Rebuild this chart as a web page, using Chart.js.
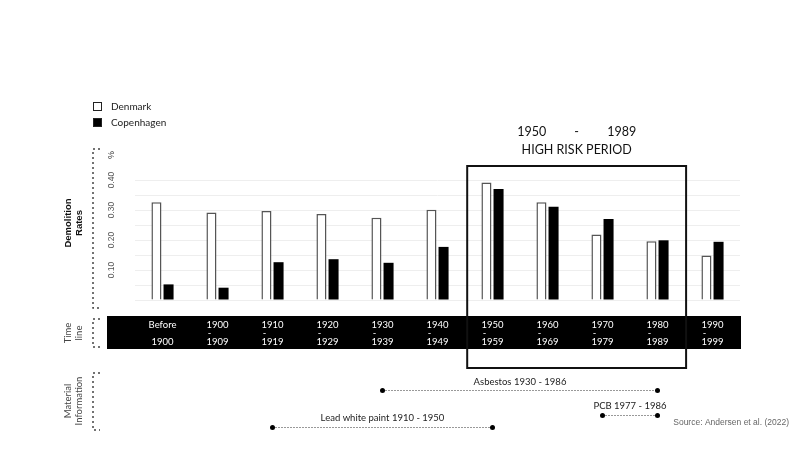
<!DOCTYPE html>
<html lang="en">
<head>
  <meta charset="UTF-8" />
  <title>Demolition Rates - Denmark vs Copenhagen</title>
  <script src="https://cdn.jsdelivr.net/npm/chart.js@4.4.0/dist/chart.umd.min.js"></script>
  <style>
    body { margin: 0; background: #fff; overflow: hidden; }
    canvas { display: block; }
  </style>
</head>
<body>
  <canvas id="chart" width="804" height="452"></canvas>
  <script>
    // data
    let categories = ['Before 1900', '1900-1909', '1910-1919', '1920-1929', '1930-1939', '1940-1949',
                      '1950-1959', '1960-1969', '1970-1979', '1980-1989', '1990-1999'];
    let periodStart = ['Before', '1900', '1910', '1920', '1930', '1940', '1950', '1960', '1970', '1980', '1990'];
    let periodEnd = ['1900', '1909', '1919', '1929', '1939', '1949', '1959', '1969', '1979', '1989', '1999'];
    let denmark = [0.326, 0.292, 0.297, 0.287, 0.274, 0.301, 0.392, 0.326, 0.218, 0.196, 0.148];
    let copenhagen = [0.052, 0.041, 0.126, 0.136, 0.124, 0.177, 0.370, 0.311, 0.270, 0.199, 0.194];
    let yTicks = [0.10, 0.20, 0.30, 0.40];

    let riskFrom = 6;   // 1950-1959
    let riskTo = 9;     // 1980-1989
    let riskTitle = ['1950', '-', '1989'];

    let materials = [
      { label: 'Asbestos 1930 - 1986', from: 1930, to: 1986, row: 0 },
      { label: 'PCB 1977 - 1986', from: 1977, to: 1986, row: 1 },
      { label: 'Lead white paint 1910 - 1950', from: 1910, to: 1950, row: 2 }
    ];
    let source = 'Source: Andersen et al. (2022)';

    const sans = 'Lato, "Noto Sans", sans-serif';
    const helv = '"Liberation Sans", Arial, sans-serif';

    function decadeIndex(year) {
      return Math.floor((year - 1900) / 10) + 1;
    }

    function rotatedText(ctx, lines, cx, cy, font, color, lh) {
      ctx.save();
      ctx.translate(cx, cy);
      ctx.rotate(-Math.PI / 2);
      ctx.font = font;
      ctx.fillStyle = color;
      ctx.textAlign = 'center';
      ctx.textBaseline = 'middle';
      let off = -(lines.length - 1) * lh / 2;
      lines.forEach((t, i) => ctx.fillText(t, 0, off + i * lh));
      ctx.restore();
    }

    function bracket(ctx, x, y1, y2) {
      ctx.save();
      ctx.strokeStyle = '#444';
      ctx.lineWidth = 1.5;
      ctx.setLineDash([2, 3]);
      ctx.beginPath();
      ctx.moveTo(x + 7, y1); ctx.lineTo(x, y1); ctx.lineTo(x, y2); ctx.lineTo(x + 7, y2);
      ctx.stroke();
      ctx.restore();
    }

    const decor = {
      id: 'decor',
      afterDraw(chart) {
        const ctx = chart.ctx;
        const xs = chart.scales.x;
        const ys = chart.scales.y;
        const step = xs.getPixelForValue(1) - xs.getPixelForValue(0);

        // legend
        chart.data.datasets.forEach((ds, i) => {
          let y = 102 + i * 16;
          ctx.fillStyle = ds.backgroundColor;
          ctx.fillRect(93, y, 9, 9);
          ctx.strokeStyle = '#222';
          ctx.lineWidth = 1;
          ctx.strokeRect(93.5, y + 0.5, 8, 8);
          ctx.fillStyle = '#222';
          ctx.font = '10px ' + sans;
          ctx.textAlign = 'left';
          ctx.textBaseline = 'middle';
          ctx.fillText(ds.label, 111, y + 4.5);
        });

        // y tick labels, rotated
        yTicks.forEach(v => {
          rotatedText(ctx, [v.toFixed(2)], 112, ys.getPixelForValue(v), '8.5px ' + helv, '#555', 10);
        });
        rotatedText(ctx, ['%'], 112, 155, '9px ' + helv, '#333', 10);

        // side titles and brackets
        rotatedText(ctx, ['Demolition', 'Rates'], 74, 223, 'bold 9.5px ' + helv, '#111', 11);
        rotatedText(ctx, ['Time', 'line'], 73, 333, '9.5px ' + sans, '#444', 11);
        rotatedText(ctx, ['Material', 'Information'], 73, 401, '9.5px ' + sans, '#444', 11);
        bracket(ctx, 93, 149, 308);
        bracket(ctx, 93, 319, 347);
        bracket(ctx, 93, 373, 430);

        // time line band
        let bandL = 107, bandR = chart.chartArea.right + 1;
        ctx.fillStyle = '#000';
        ctx.fillRect(bandL, 316, bandR - bandL, 33);
        ctx.fillStyle = '#fff';
        ctx.font = '9.5px ' + sans;
        ctx.textAlign = 'center';
        ctx.textBaseline = 'middle';
        categories.forEach((c, i) => {
          let x = xs.getPixelForValue(i);
          ctx.fillText(periodStart[i], x, 325);
          ctx.fillText('-', x - 8, 333);
          ctx.fillText(periodEnd[i], x, 342);
        });
        // "Before" column has its dash hidden
        ctx.fillStyle = '#000';
        ctx.fillRect(xs.getPixelForValue(0) - 14, 329, 10, 8);

        // high risk box
        let bl = xs.getPixelForValue(riskFrom) - 0.46 * step;
        let br = xs.getPixelForValue(riskTo) + 0.52 * step;
        let bc = (bl + br) / 2;
        ctx.strokeStyle = '#111';
        ctx.lineWidth = 2;
        ctx.strokeRect(bl, 166, br - bl, 202);
        ctx.fillStyle = '#111';
        ctx.font = '12.5px ' + sans;
        ctx.textAlign = 'center';
        ctx.textBaseline = 'middle';
        ctx.fillText(riskTitle[0], bc - 45, 132);
        ctx.fillText(riskTitle[1], bc, 132);
        ctx.fillText(riskTitle[2], bc + 45, 132);
        ctx.fillText('HIGH RISK PERIOD', bc, 150);

        // material information lines
        let rows = [{ line: 390, text: 382 }, { line: 415, text: 406 }, { line: 427, text: 418 }];
        materials.forEach(m => {
          let x1 = xs.getPixelForValue(decadeIndex(m.from));
          let x2 = xs.getPixelForValue(decadeIndex(m.to));
          let r = rows[m.row];
          ctx.save();
          ctx.strokeStyle = '#333';
          ctx.lineWidth = 1;
          ctx.setLineDash([1, 2]);
          ctx.beginPath();
          ctx.moveTo(x1, r.line + 0.5);
          ctx.lineTo(x2, r.line + 0.5);
          ctx.stroke();
          ctx.restore();
          ctx.fillStyle = '#000';
          [x1, x2].forEach(x => {
            ctx.beginPath();
            ctx.arc(x, r.line + 0.5, 2.5, 0, Math.PI * 2);
            ctx.fill();
          });
          ctx.fillStyle = '#222';
          ctx.font = '9.5px ' + sans;
          ctx.textAlign = 'center';
          ctx.textBaseline = 'middle';
          ctx.fillText(m.label, (x1 + x2) / 2, r.text);
        });

        // source
        ctx.fillStyle = '#666';
        ctx.font = '8.5px ' + helv;
        ctx.textAlign = 'right';
        ctx.textBaseline = 'middle';
        ctx.fillText(source, 789, 423);
      }
    };

    const ctx = document.getElementById('chart').getContext('2d');
    new Chart(ctx, {
      type: 'bar',
      data: {
        labels: categories,
        datasets: [
          { label: 'Denmark', data: denmark, backgroundColor: '#ffffff', borderColor: '#555', borderWidth: 1.5 },
          { label: 'Copenhagen', data: copenhagen, backgroundColor: '#000000', borderWidth: 0 }
        ]
      },
      options: {
        responsive: false,
        animation: false,
        layout: { padding: { left: 135, right: 64, top: 180, bottom: 152 } },
        datasets: { bar: { categoryPercentage: 0.44, barPercentage: 0.83 } },
        plugins: { legend: { display: false }, tooltip: { enabled: false } },
        scales: {
          x: { display: false, offset: true },
          y: {
            min: 0, max: 0.4,
            ticks: { display: false, stepSize: 0.05 },
            grid: { color: '#eeeeee', drawTicks: false },
            border: { display: false }
          }
        }
      },
      plugins: [decor]
    });
  </script>
</body>
</html>
